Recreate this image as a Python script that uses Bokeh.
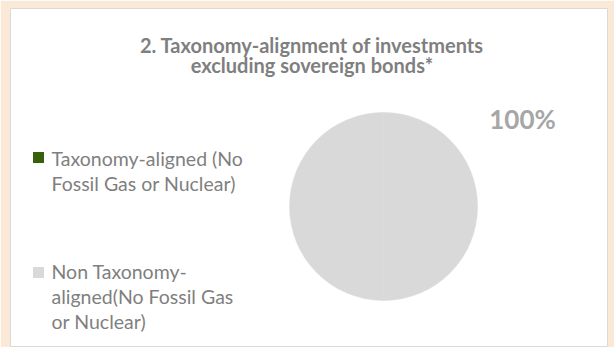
import math
from bokeh.plotting import figure
from bokeh.models import ColumnDataSource, Range1d
from bokeh.core.properties import value
from bokeh.embed import file_html
from bokeh.resources import INLINE

# ---- data ----
title_lines = ["2. Taxonomy-alignment of investments", "excluding sovereign bonds*"]
categories = ["Taxonomy-aligned (No Fossil Gas or Nuclear)",
              "Non Taxonomy-aligned(No Fossil Gas or Nuclear)"]
legend_lines = [["Taxonomy-aligned (No", "Fossil Gas or Nuclear)"],
                ["Non Taxonomy-", "aligned(No Fossil Gas", "or Nuclear)"]]
shares = [0.0, 100.0]
colors = ["#385F0A", "#D9D9D9"]

BEIGE = "#FBE9D8"
FONT = "Lato"

p = figure(width=614, height=347, output_backend="svg", toolbar_location=None,
           x_range=Range1d(0, 597), y_range=Range1d(0, 339),
           min_border_left=10, min_border_right=7, min_border_top=8, min_border_bottom=0)
p.axis.visible = False
p.grid.visible = False
p.background_fill_color = "white"
p.border_fill_color = BEIGE
p.outline_line_color = "#D9D9D9"
p.outline_line_width = 1

# title
p.text(x=[301.5] * len(title_lines), y=[303, 283], text=title_lines,
       text_font=value(FONT), text_font_style="bold", text_font_size="20px",
       text_color="#7F7F7F", text_align="center", text_baseline="middle")

# pie (each slice drawn as two halves so that a full 100% slice renders)
total = sum(shares)
starts, ends, cols = [], [], []
ang = math.pi / 2
for s, col in zip(shares, colors):
    sweep = 2 * math.pi * s / total
    if s > 0:
        mid = ang - sweep / 2
        starts += [mid, ang - sweep]
        ends += [ang, mid]
        cols += [col, col]
    ang -= sweep
src = ColumnDataSource(dict(start=starts, end=ends, color=cols))
p.wedge(x=373, y=141, radius=94, start_angle="start", end_angle="end",
        fill_color="color", line_color="color", line_width=0.5, source=src)

# data label
labels = [f"{s:.0f}%" for s in shares if s > 0]
p.text(x=[512] * len(labels), y=[229] * len(labels), text=labels,
       text_font=value(FONT), text_font_style="bold", text_font_size="26px",
       text_color="#A6A6A6", text_align="center", text_baseline="middle")

# legend
sq_y = [190, 75]
line_ys = [[189, 164], [76, 51, 26]]
p.scatter(x=[28, 28], y=sq_y, marker="square", size=11, fill_color=colors, line_color=None)
for lines, ys in zip(legend_lines, line_ys):
    p.text(x=[41] * len(lines), y=ys, text=lines, text_font=value(FONT),
           text_font_size="19.5px", text_color="#7F7F7F",
           text_align="left", text_baseline="middle")

open("out.html", "w").write(file_html(p, INLINE))
